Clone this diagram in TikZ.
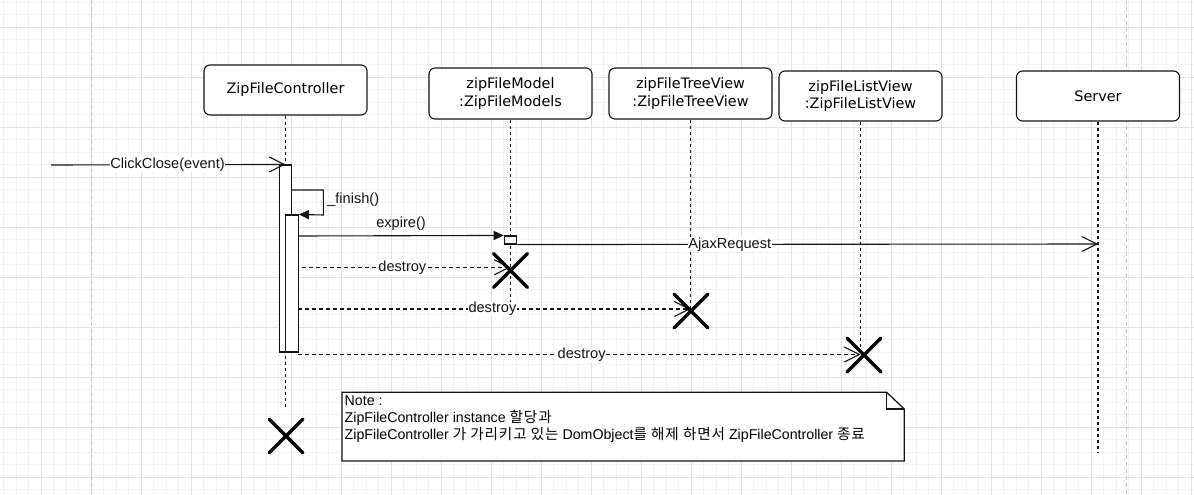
\documentclass[tikz,border=0pt]{standalone}
\usepackage{fontspec}
\setmainfont{Liberation Sans}
\newfontfamily\boxfont{DejaVu Sans}
\newfontfamily\kr[LetterSpace=6]{Noto Sans CJK KR}
\usetikzlibrary{arrows.meta,calc}
\definecolor{gridminor}{RGB}{243,243,243}
\definecolor{gridmajor}{RGB}{226,226,226}
\definecolor{pagebreak}{RGB}{195,195,195}
\definecolor{ink}{RGB}{20,20,20}
\newcommand{\hg}[1]{{\kr\fontsize{14.6}{17}\selectfont #1}}
\tikzset{
  lifebox/.style={draw=ink, rounded corners=6pt, minimum width=163pt, minimum height=50pt,
    fill=white, font=\boxfont\fontsize{14.4}{17.7}\selectfont, align=center, line width=1.1pt, inner sep=0pt},
  lifeline/.style={draw=ink, dash pattern=on 3pt off 3pt, line width=1.2pt},
  actbar/.style={draw=ink, fill=white, minimum width=12.6pt, inner sep=0pt, line width=1.1pt},
  msg/.style={draw=ink, line width=1.1pt},
  retmsg/.style={draw=ink, line width=1.1pt, dash pattern=on 4pt off 3pt},
  lbl/.style={font=\fontsize{14.6}{16}\selectfont, fill=white, inner sep=0.6pt, text=ink},
  plainlbl/.style={font=\fontsize{14.6}{16}\selectfont, inner sep=0.6pt, text=ink},
  openhead/.style={-{Straight Barb[length=15pt,width=15pt]}},
  filledhead/.style={-{Triangle[length=10pt,width=9pt]}},
  xmark/.style={draw=black, line width=3.3pt, line cap=round},
  xcross/.pic={\draw[xmark] (-17,-17) -- (17,17) (-17,17) -- (17,-17);},
  notebox/.style={draw=ink, fill=white, line width=1.2pt},
  notetext/.style={font=\fontsize{14.2}{17}\selectfont, align=left, inner sep=0pt, anchor=north west, text=black}
}
\begin{document}
\begin{tikzpicture}[x=1pt,y=-1pt]
\useasboundingbox (0,0) rectangle (1194,495);
\fill[white] (0,0) rectangle (1194,495);
% grid
\foreach \i in {0,...,95} { \draw[gridminor, line width=0.8pt] (3.8+12.5*\i,0) -- (3.8+12.5*\i,495); }
\foreach \i in {0,...,39} { \draw[gridminor, line width=0.8pt] (0,2+12.5*\i) -- (1194,2+12.5*\i); }
\foreach \i in {0,...,23} { \draw[gridmajor, line width=0.8pt] (41.3+50*\i,0) -- (41.3+50*\i,495); }
\foreach \i in {0,...,9} { \draw[gridmajor, line width=0.8pt] (0,27+50*\i) -- (1194,27+50*\i); }
% page breaks
\draw[pagebreak, line width=1pt, dash pattern=on 4pt off 3pt] (91.3,0) -- (91.3,495);
\draw[pagebreak, line width=1pt, dash pattern=on 4pt off 3pt] (1126,0) -- (1126,495);

% participants
\node[lifebox] (ctrl) at (285.5,90) {ZipFileController};
\node[lifebox, minimum height=51pt] (model) at (510.5,93.5) {zipFileModel\\:ZipFileModels};
\node[lifebox, minimum height=51pt] (tree) at (690.5,93.5) {zipFileTreeView\\:ZipFileTreeView};
\node[lifebox] (list) at (860.5,96) {zipFileListView\\:ZipFileListView};
\node[lifebox] (server) at (1098,96) {Server};

% lifeline ends
\coordinate (ctrlEnd) at (285.5,408);
\coordinate (modelEnd) at (510.5,316);
\coordinate (treeEnd) at (690.5,311);
\coordinate (listEnd) at (860.5,352);
\coordinate (serverEnd) at (1098,452);
\draw[lifeline] (ctrl.south) -- (ctrlEnd);
\draw[lifeline] (model.south) -- (modelEnd);
\draw[lifeline] (tree.south) -- (treeEnd);
\draw[lifeline] (list.south) -- (listEnd);
\draw[lifeline] (server.south) -- (serverEnd);

% activations
\node[actbar, minimum height=187pt] (act1) at (285.5,258.5) {};
\node[actbar, minimum height=137pt] (act2) at (292,283.5) {};
\node[actbar, minimum width=12.5pt, minimum height=8pt] (mbox) at (510.5,240) {};

% messages
\coordinate (ccStart) at (51,165);
\draw[msg, openhead] (ccStart) -- node[lbl, pos=0.497] {ClickClose(event)} (act1.north);

\coordinate (f1) at (292,190);
\coordinate (f2) at (323.3,190);
\coordinate (f3) at (323.3,215);
\draw[msg, filledhead] (f1) -- (f2) -- (f3) -- (act2.north east);
\node[plainlbl, anchor=west] (finlbl) at (326.5,199.5) {\_finish()};

\coordinate (e1) at (298.3,236);
\draw[msg, filledhead] (e1) -- node[plainlbl, yshift=12pt] {expire()} (mbox.north west);

\coordinate (ajaxEnd) at (1098,244);
\draw[msg, openhead] (mbox.south east) -- node[lbl, pos=0.366] {AjaxRequest} (ajaxEnd);

\coordinate (d1s) at (301.7,267.3);
\coordinate (d1e) at (510.5,267.3);
\draw[retmsg, openhead] (d1s) -- node[lbl, pos=0.482] {destroy} (d1e);
\coordinate (d2s) at (298.3,309);
\coordinate (d2e) at (690.5,309);
\draw[retmsg, openhead] (d2s) -- node[lbl, pos=0.495] {destroy} (d2e);
\coordinate (d3s) at (298.3,354.5);
\coordinate (d3e) at (860.5,354.5);
\draw[retmsg, openhead] (d3s) -- node[lbl, pos=0.504] {destroy} (d3e);

% destruction marks
\pic at (510.5,270.5) {xcross};
\pic at (691,311) {xcross};
\pic at (864,355) {xcross};
\pic at (286,436) {xcross};

% note
\draw[notebox] (342,392.3) -- (886.7,392.3) -- (904.3,409) -- (904.3,461) -- (342,461) -- cycle;
\draw[notebox, fill=none] (886.7,392.3) -- (886.7,409) -- (904.3,409);
\node[notetext] (note) at (344.5,396) {Note :\\ZipFileController instance \hg{할당과}\\ZipFileController \hg{가 가리키고 있는} DomObject\hg{를 해제 하면서} ZipFileController \hg{종료}};
\end{tikzpicture}
\end{document}
